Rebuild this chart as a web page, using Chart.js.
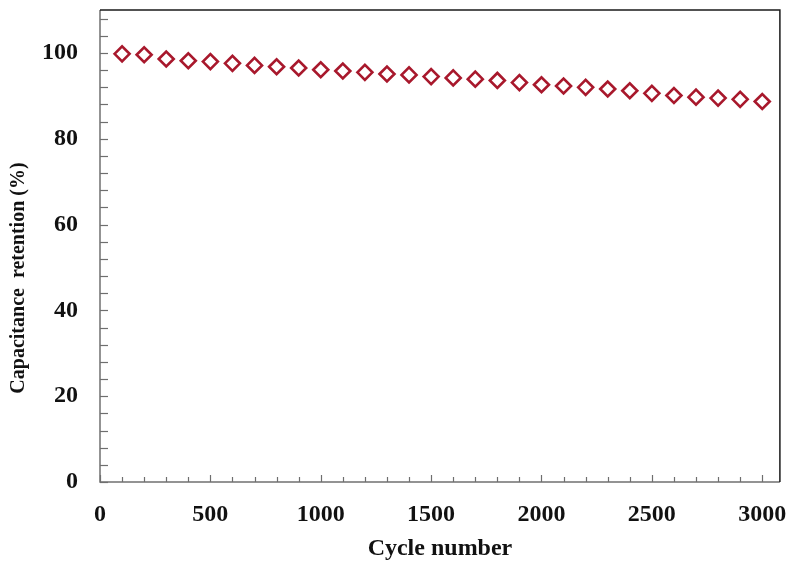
<!DOCTYPE html>
<html>
<head>
<meta charset="utf-8">
<script src="https://cdn.jsdelivr.net/npm/chart.js@4.4.1/dist/chart.umd.min.js"></script>
<style>
  html, body { margin: 0; padding: 0; background: #fff; overflow: hidden; }
  canvas { display: block; }
</style>
</head>
<body>
<canvas id="retention" width="790" height="563"></canvas>
<script>
// cycle number vs. capacitance retention
var cycles = [100, 200, 300, 400, 500, 600, 700, 800, 900, 1000,
              1100, 1200, 1300, 1400, 1500, 1600, 1700, 1800, 1900, 2000,
              2100, 2200, 2300, 2400, 2500, 2600, 2700, 2800, 2900, 3000];
var retention = [99.8, 99.6, 98.6, 98.2, 98.0, 97.6, 97.1, 96.8, 96.5, 96.1,
                 95.8, 95.5, 95.1, 94.9, 94.5, 94.2, 93.9, 93.6, 93.1, 92.6,
                 92.3, 92.0, 91.6, 91.2, 90.6, 90.1, 89.7, 89.5, 89.2, 88.7];
var xLabelStep = 500;
var yLabelStep = 20;
var yTitle = 'Capacitance  retention (%)';
var xTitle = 'Cycle number';

var serif = '"Liberation Serif", "Times New Roman", serif';

// inward tick marks, the box frame and the rotated y title
var framePlugin = {
    id: 'frame',
    afterDraw: function(chart) {
        var ctx = chart.ctx;
        var a = chart.chartArea;
        var xs = chart.scales.x, ys = chart.scales.y;
        ctx.save();
        ctx.lineWidth = 1.2;
        ctx.strokeStyle = '#6e6e6e';
        xs.ticks.forEach(function(t) {
            var px = Math.round(xs.getPixelForValue(t.value)) + 0.5;
            var len = t.value % xLabelStep === 0 ? 7 : 5;
            ctx.beginPath();
            ctx.moveTo(px, a.bottom);
            ctx.lineTo(px, a.bottom - len);
            ctx.stroke();
        });
        ys.ticks.forEach(function(t) {
            var py = Math.round(ys.getPixelForValue(t.value)) + 0.5;
            ctx.beginPath();
            ctx.moveTo(a.left, py);
            ctx.lineTo(a.left + 8, py);
            ctx.stroke();
        });
        // left and bottom axis lines
        ctx.lineWidth = 1.5;
        ctx.strokeStyle = '#707070';
        ctx.beginPath();
        ctx.moveTo(a.left, a.top);
        ctx.lineTo(a.left, a.bottom);
        ctx.lineTo(a.right, a.bottom);
        ctx.stroke();
        // top and right edges
        ctx.strokeStyle = '#1a1a1a';
        ctx.beginPath();
        ctx.moveTo(a.left, a.top);
        ctx.lineTo(a.right, a.top);
        ctx.lineTo(a.right, a.bottom);
        ctx.stroke();

        ctx.fillStyle = '#111';
        ctx.font = 'bold 20px ' + serif;
        ctx.textAlign = 'center';
        ctx.textBaseline = 'middle';
        ctx.translate(19, 278);
        ctx.rotate(-Math.PI / 2);
        ctx.fillText(yTitle, 0, 0);
        ctx.restore();
    }
};

new Chart(document.getElementById('retention'), {
    type: 'scatter',
    data: {
        datasets: [{
            label: 'Retention',
            data: cycles.map(function(c, i) { return { x: c, y: retention[i] }; }),
            pointStyle: 'rectRot',
            pointRadius: 7.5,
            pointHoverRadius: 7.5,
            pointBorderWidth: 2.6,
            pointBorderColor: '#a8182c',
            pointBackgroundColor: '#ffffff',
            showLine: false
        }]
    },
    options: {
        responsive: false,
        animation: false,
        layout: { padding: { top: 10, right: 8, left: 0, bottom: 0 } },
        plugins: {
            legend: { display: false },
            tooltip: { enabled: false }
        },
        scales: {
            x: {
                type: 'linear',
                min: 0,
                max: 3080,
                grid: { display: false, drawTicks: false },
                border: { display: false },
                ticks: {
                    stepSize: 100,
                    includeBounds: false,
                    autoSkip: false,
                    maxRotation: 0,
                    padding: 18,
                    color: '#111',
                    font: { family: serif, size: 24, weight: 'bold' },
                    callback: function(v) { return v % xLabelStep === 0 ? v : ''; }
                },
                title: {
                    display: true,
                    text: xTitle,
                    color: '#111',
                    font: { family: serif, size: 24, weight: 'bold' },
                    padding: { top: 4, bottom: 0 }
                },
                afterFit: function(s) {
                    s.height = 81;
                    s.paddingLeft = 0;
                    s.paddingRight = 0;
                }
            },
            y: {
                min: 0,
                max: 110,
                grid: { display: false, drawTicks: false },
                border: { display: false },
                ticks: {
                    stepSize: 4,
                    includeBounds: false,
                    autoSkip: false,
                    padding: 22,
                    color: '#111',
                    font: { family: serif, size: 24, weight: 'bold' },
                    callback: function(v) { return v % yLabelStep === 0 ? v : ''; }
                },
                afterFit: function(s) {
                    s.width = 100;
                    s.paddingTop = 0;
                    s.paddingBottom = 0;
                }
            }
        }
    },
    plugins: [framePlugin]
});
</script>
</body>
</html>
